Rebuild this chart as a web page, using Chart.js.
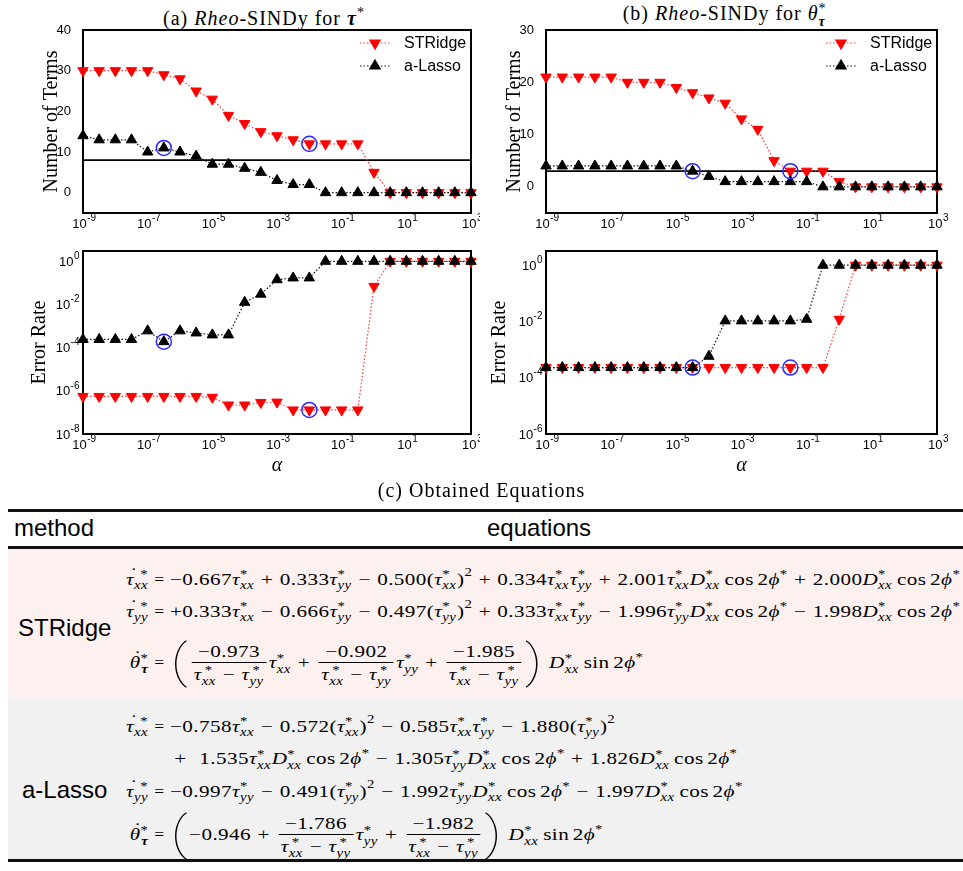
<!DOCTYPE html>
<html>
<head>
<meta charset="utf-8">
<script src="https://cdn.jsdelivr.net/npm/chart.js@4.4.1/dist/chart.umd.min.js"></script>
<style>
  html, body { margin: 0; padding: 0; background: #fff; }
  #page { position: relative; width: 963px; height: 871px; overflow: hidden; }
  .cv { position: absolute; }
  .serif { font-family: "Liberation Serif", "Times New Roman", serif; color: #000; }
  .sans { font-family: "Liberation Sans", Arial, sans-serif; color: #000; }
  .ptitle { position: absolute; top: 2px; font-size: 20px; letter-spacing: 0.05em; white-space: nowrap; transform: translateX(-50%); line-height: 22px; }
  .rule { position: absolute; left: 8px; right: 0; background: #111; }
  .band { position: absolute; left: 8px; right: 0; }
  .lbl { position: absolute; font-size: 24px; line-height: 28px; }
  .row { position: absolute; left: 0; font-size: 17.5px; line-height: 20px; height: 20px; white-space: nowrap; letter-spacing: 0.02em; }
  .lhs { display: inline-block; width: 149px; text-align: right; }
  .lhsin, .rhs { display: inline-block; }
  .lhsin { transform-origin: 100% 50%; }
  .rhs { transform-origin: 0 50%; }
  .op { margin: 0 0.3em; }
  .ss { display: inline-flex; flex-direction: column; font-size: 0.7em; line-height: 0.9em; vertical-align: 0.5em; margin-right: 0.05em; }
  .ss > span { display: block; height: 0.9em; }
  .st { font-size: 0.7em; vertical-align: 0.55em; }
  .p2 { font-size: 0.7em; vertical-align: 0.7em; }
  .fn { margin: 0 0.17em 0 0.2em; }
  .dt { position: relative; display: inline-block; }
  .dt::after { content: "\02D9"; position: absolute; left: 0.2em; top: -0.3em; font-style: normal; }
  .fr { display: inline-flex; flex-direction: column; text-align: center; vertical-align: middle; margin: -30px 0.12em; }
  .fr > span { display: block; padding: 0 0.1em; line-height: 22px; }
  .fr > .de { border-top: 1px solid #000; }
  .bp { display: inline-block; font-family: Roboto, "DejaVu Sans", sans-serif; font-weight: 100; font-size: 46px; line-height: 20px; vertical-align: -9px; margin: 0 0.02em; }
</style>
</head>
<body>
<div id="page">
  <div class="ptitle serif" style="left:264px;">(a) <i>Rheo</i>-SINDy for <b><i>τ</i></b><span class="st">*</span></div>
  <div class="ptitle serif" style="left:725px;">(b) <i>Rheo</i>-SINDy for <i>θ</i><span class="ss"><span>*</span><span><b><i>τ</i></b></span></span></div>

  <canvas id="cTermsTau" class="cv" width="480" height="220" style="left:0;top:20px;"></canvas>
  <canvas id="cTermsTheta" class="cv" width="483" height="220" style="left:480px;top:20px;"></canvas>
  <canvas id="cErrTau" class="cv" width="480" height="240" style="left:0;top:240px;"></canvas>
  <canvas id="cErrTheta" class="cv" width="483" height="240" style="left:480px;top:240px;"></canvas>

  <div class="serif" style="position:absolute;left:0;width:963px;top:479px;text-align:center;font-size:20px;letter-spacing:0.05em;line-height:22px;">(c) Obtained Equations</div>

  <div class="rule" style="top:509px;height:2.5px;"></div>
  <div class="lbl sans" style="left:14px;top:514px;">method</div>
  <div class="lbl sans" style="left:487px;top:514px;">equations</div>
  <div class="rule" style="top:546px;height:2.5px;"></div>
  <div class="band" style="top:549px;height:149px;background:#fdf1f0;"></div>
  <div class="band" style="top:698px;height:161px;background:#f1f1f1;"></div>
  <div class="rule" style="top:859px;height:3px;"></div>

  <div class="lbl sans" style="left:18px;top:614px;">STRidge</div>
  <div class="lbl sans" style="left:22px;top:776px;">a-Lasso</div>
  <div id="eqs" class="serif"></div>
</div>

<script>
// alpha grid (half decades from 1e-9 to 1e3)
const alpha = [1e-9, 3.16e-9, 1e-8, 3.16e-8, 1e-7, 3.16e-7, 1e-6, 3.16e-6, 1e-5, 3.16e-5,
  1e-4, 3.16e-4, 1e-3, 3.16e-3, 1e-2, 3.16e-2, 1e-1, 3.16e-1, 1, 3.16, 10, 31.6, 100, 316, 1000];
const xTicks = [1e-9, 1e-7, 1e-5, 1e-3, 1e-1, 1e1, 1e3];

// (a) tau*
const termsStridgeTau = [30, 30, 30, 30, 30, 29, 28, 25, 23, 19, 17, 15, 14, 13, 12, 12, 12, 12, 5, 0, 0, 0, 0, 0, 0];
const termsLassoTau = [14, 13, 13, 13, 10, 11, 10, 9, 7, 7, 6, 5, 3, 2, 2, 0, 0, 0, 0, 0, 0, 0, 0, 0, 0];
const errStridgeTau = [5.5e-7, 5.5e-7, 5.5e-7, 5.5e-7, 5.5e-7, 5.5e-7, 5.5e-7, 5.5e-7, 5e-7, 2.2e-7, 2.2e-7, 2.9e-7, 3e-7,
  1.3e-7, 1.3e-7, 1.3e-7, 1.3e-7, 1.3e-7, 0.069, 1, 1, 1, 1, 1, 1];
const errLassoTau = [2.4e-4, 2.4e-4, 2.4e-4, 2.4e-4, 6e-4, 1.9e-4, 6e-4, 4.8e-4, 3.9e-4, 3.9e-4, 0.0126, 0.03, 0.14,
  0.17, 0.17, 1, 1, 1, 1, 1, 1, 1, 1, 1, 1];
const trueTermsTau = 8;
const pickStridgeTau = 14;
const pickLassoTau = 5;

// (b) theta*
const termsStridgeTheta = [21, 21, 21, 21, 21, 20, 20, 20, 19, 18, 17, 16, 13, 11, 5, 3, 3, 3, 1, 0, 0, 0, 0, 0, 0];
const termsLassoTheta = [4, 4, 4, 4, 4, 4, 4, 4, 4, 3, 2, 1, 1, 1, 1, 1, 1, 0, 0, 0, 0, 0, 0, 0, 0];
const errStridgeTheta = [2.3e-4, 2.3e-4, 2.3e-4, 2.3e-4, 2.3e-4, 2.3e-4, 2.3e-4, 2.3e-4, 2.3e-4, 2.3e-4, 2.3e-4, 2.3e-4,
  2.3e-4, 2.3e-4, 2.3e-4, 2.3e-4, 2.3e-4, 2.3e-4, 0.012, 1, 1, 1, 1, 1, 1];
const errLassoTheta = [2.3e-4, 2.3e-4, 2.3e-4, 2.3e-4, 2.3e-4, 2.3e-4, 2.3e-4, 2.3e-4, 2.3e-4, 2.3e-4, 5.8e-4, 0.0105,
  0.0105, 0.0105, 0.0105, 0.0105, 0.012, 1, 1, 1, 1, 1, 1, 1, 1];
const trueTermsTheta = 3;
const pickStridgeTheta = 15;
const pickLassoTheta = 9;

Chart.defaults.font.family = "'Liberation Sans', Arial, sans-serif";
Chart.defaults.color = "#000";

const frameBox = {
  id: "frameBox",
  beforeDatasetsDraw(chart) {
    const { ctx, chartArea: a } = chart;
    ctx.save();
    ctx.strokeStyle = "#000";
    ctx.lineWidth = 2;
    ctx.strokeRect(a.left, a.top, a.right - a.left, a.bottom - a.top);
    ctx.restore();
  }
};

// "10" with a raised exponent, placed from the scale's own pixels
const powLabels = {
  id: "powLabels",
  afterDraw(chart) {
    const { ctx } = chart;
    Object.values(chart.scales).forEach(s => {
      const vals = s.options.powTicks;
      if (!vals) return;
      ctx.save();
      ctx.fillStyle = "#000";
      ctx.textBaseline = "middle";
      ctx.textAlign = "left";
      vals.forEach(v => {
        const e = String(Math.round(Math.log10(v)));
        ctx.font = "13px 'Liberation Sans', Arial, sans-serif";
        const wb = ctx.measureText("10").width;
        ctx.font = "10px 'Liberation Sans', Arial, sans-serif";
        const we = ctx.measureText(e).width;
        let x, y;
        if (s.axis === "x") {
          x = s.getPixelForValue(v) - (wb + we) / 2 + 1;
          y = s.top + 11;
        } else {
          x = s.right - 4 - (wb + we);
          y = s.getPixelForValue(v) + 1;
        }
        ctx.font = "13px 'Liberation Sans', Arial, sans-serif";
        ctx.fillText("10", x, y);
        ctx.font = "10px 'Liberation Sans', Arial, sans-serif";
        ctx.fillText(e, x + wb + 0.5, y - 6);
      });
      ctx.restore();
    });
  }
};

const insideLegend = {
  id: "insideLegend",
  afterDraw(chart, args, opts) {
    if (!opts.show) return;
    const { ctx, chartArea: a } = chart;
    const items = chart.data.datasets.filter(d => d.inLegend);
    items.forEach((d, i) => {
      const y = a.top + 13 + i * 23;
      const x0 = a.right - 111, x1 = a.right - 81;
      ctx.save();
      ctx.strokeStyle = d.borderColor;
      ctx.lineWidth = d.borderWidth;
      ctx.setLineDash(d.borderDash);
      ctx.beginPath();
      ctx.moveTo(x0, y);
      ctx.lineTo(x1, y);
      ctx.stroke();
      ctx.setLineDash([]);
      ctx.fillStyle = d.pointBackgroundColor;
      ctx.strokeStyle = d.pointBorderColor;
      Chart.helpers.drawPoint(ctx, {
        pointStyle: d.pointStyle, rotation: d.pointRotation, radius: d.pointRadius, borderWidth: 1
      }, (x0 + x1) / 2, y);
      ctx.fillStyle = "#000";
      ctx.font = "16px 'Liberation Sans', Arial, sans-serif";
      ctx.textBaseline = "middle";
      ctx.fillText(d.label, a.right - 67, y + 1);
      ctx.restore();
    });
  }
};

function pts(vals) {
  return alpha.map((a, i) => ({ x: a, y: vals[i] }));
}

function makePanel(id, p) {
  const datasets = [
    {
      label: "STRidge", inLegend: true, data: pts(p.stridge), order: 2, clip: false,
      borderColor: "#ff3b3b", borderWidth: 1.2, borderDash: [1.5, 2],
      pointStyle: "triangle", pointRotation: 180, pointRadius: 6,
      pointBackgroundColor: "#ff0000", pointBorderColor: "#ff0000", pointBorderWidth: 1
    },
    {
      label: "a-Lasso", inLegend: true, data: pts(p.lasso), order: 1, clip: false,
      borderColor: "#111", borderWidth: 1.2, borderDash: [1.5, 2],
      pointStyle: "triangle", pointRotation: 0, pointRadius: 6,
      pointBackgroundColor: "#000", pointBorderColor: "#000", pointBorderWidth: 1
    },
    {
      label: "picked", data: [
        { x: alpha[p.pickS], y: p.stridge[p.pickS] },
        { x: alpha[p.pickL], y: p.lasso[p.pickL] }
      ],
      order: 0, showLine: false, clip: false,
      pointStyle: "circle", pointRadius: 7.5, pointBorderWidth: 1.5,
      pointBorderColor: "#2a2aff", pointBackgroundColor: "rgba(0,0,0,0)"
    }
  ];
  if (p.ref !== undefined) {
    datasets.push({
      label: "true", data: [{ x: alpha[0], y: p.ref }, { x: alpha[alpha.length - 1], y: p.ref }],
      order: 3, borderColor: "#000", borderWidth: 1.8, pointRadius: 0
    });
  }
  const logY = p.yType === "logarithmic";
  return new Chart(document.getElementById(id), {
    type: "line",
    data: { datasets },
    plugins: [frameBox, powLabels, insideLegend],
    options: {
      responsive: false,
      animation: false,
      devicePixelRatio: 1,
      layout: { padding: { top: p.top, right: p.right, bottom: 0, left: 0 } },
      plugins: {
        legend: { display: false },
        tooltip: { enabled: false },
        insideLegend: { show: p.legend }
      },
      scales: {
        x: {
          type: "logarithmic",
          min: 1e-9, max: 1e3,
          powTicks: xTicks,
          grid: { display: false },
          border: { display: false },
          afterBuildTicks: s => { s.ticks = xTicks.map(v => ({ value: v })); },
          afterFit: s => { s.height = p.xHeight; s.paddingLeft = 0; s.paddingRight = 0; },
          ticks: { display: false },
          title: {
            display: !!p.xTitle, text: p.xTitle || "", color: "#000",
            font: { family: "'Liberation Serif', serif", size: 20, style: "italic" },
            padding: { top: 0, bottom: 2 }
          }
        },
        y: {
          type: p.yType,
          min: p.yMin, max: p.yMax,
          powTicks: logY ? p.yTicks : undefined,
          grid: { display: false },
          border: { display: false },
          afterBuildTicks: s => { s.ticks = p.yTicks.map(v => ({ value: v })); },
          afterFit: s => { s.width = p.yWidth; s.paddingTop = 0; s.paddingBottom = 0; },
          ticks: { display: !logY, autoSkip: false, padding: 4, font: { size: 13 } },
          title: {
            display: true, text: p.yTitle, color: "#000",
            font: { family: "'Liberation Serif', serif", size: 20 },
            padding: { top: p.yTitleX - 12, bottom: 0 }
          }
        }
      }
    }
  });
}

makePanel("cTermsTau", {
  stridge: termsStridgeTau, lasso: termsLassoTau, pickS: pickStridgeTau, pickL: pickLassoTau, ref: trueTermsTau,
  yType: "linear", yMin: -5, yMax: 40, yTicks: [0, 10, 20, 30, 40], yTitle: "Number of Terms",
  yTitleX: 52, yWidth: 83, top: 10, right: 6, xHeight: 27, legend: true
});
makePanel("cTermsTheta", {
  stridge: termsStridgeTheta, lasso: termsLassoTheta, pickS: pickStridgeTheta, pickL: pickLassoTheta, ref: trueTermsTheta,
  yType: "linear", yMin: -5, yMax: 30, yTicks: [0, 10, 20, 30], yTitle: "Number of Terms",
  yTitleX: 35, yWidth: 66, top: 10, right: 26, xHeight: 27, legend: true
});
makePanel("cErrTau", {
  stridge: errStridgeTau, lasso: errLassoTau, pickS: pickStridgeTau, pickL: pickLassoTau,
  yType: "logarithmic", yMin: 1e-8, yMax: 3, yTicks: [1e-8, 1e-6, 1e-4, 1e-2, 1], yTitle: "Error Rate",
  yTitleX: 40, yWidth: 83, top: 11, right: 6, xHeight: 46, xTitle: "α", legend: false
});
makePanel("cErrTheta", {
  stridge: errStridgeTheta, lasso: errLassoTheta, pickS: pickStridgeTheta, pickL: pickLassoTheta,
  yType: "logarithmic", yMin: 1e-6, yMax: 3.2, yTicks: [1e-6, 1e-4, 1e-2, 1], yTitle: "Error Rate",
  yTitleX: 20, yWidth: 66, top: 11, right: 26, xHeight: 46, xTitle: "α", legend: false
});

// ---- equations table (typeset with html) ----
const star = sub => `<span class="ss"><span>*</span><span>${sub}</span></span>`;
const tau = sub => `<i>τ</i>${star(`<i>${sub}</i>`)}`;
const D = `<i>D</i>${star("<i>xx</i>")}`;
const op = c => `<span class="op">${c}</span>`;
const sq = "<span class=\"p2\">2</span>";
const cos2 = `<span class="fn">cos</span>2<i>ϕ</i><span class="st">*</span>`;
const sin2 = `<span class="fn">sin</span>2<i>ϕ</i><span class="st">*</span>`;
const tdot = sub => `<span class="dt"><i>τ</i></span>${star(`<i>${sub}</i>`)}`;
const thdot = `<span class="dt"><i>θ</i></span>${star("<b><i>τ</i></b>")}`;
const frac = num => `<span class="fr"><span>${num}</span><span class="de">${tau("xx")}${op("−")}${tau("yy")}</span></span>`;
const lp = "<span class=\"bp\">(</span>", rp = "<span class=\"bp\">)</span>";

const rows = [
  [572, tdot("xx"), `−0.667${tau("xx")}${op("+")}0.333${tau("yy")}${op("−")}0.500(${tau("xx")})${sq}${op("+")}0.334${tau("xx")}${tau("yy")}${op("+")}2.001${tau("xx")}${D}${cos2}${op("+")}2.000${D}${cos2}`],
  [604, tdot("yy"), `+0.333${tau("xx")}${op("−")}0.666${tau("yy")}${op("−")}0.497(${tau("yy")})${sq}${op("+")}0.333${tau("xx")}${tau("yy")}${op("−")}1.996${tau("yy")}${D}${cos2}${op("−")}1.998${D}${cos2}`],
  [657, thdot, `${lp}${frac("−0.973")}${tau("xx")}${op("+")}${frac("−0.902")}${tau("yy")}${op("+")}${frac("−1.985")}${rp} ${D}${sin2}`],
  [719, tdot("xx"), `−0.758${tau("xx")}${op("−")}0.572(${tau("xx")})${sq}${op("−")}0.585${tau("xx")}${tau("yy")}${op("−")}1.880(${tau("yy")})${sq}`],
  [753, "", `<span style="margin-left:0.2em">+</span><span class="op"></span>1.535${tau("xx")}${D}${cos2}${op("−")}1.305${tau("yy")}${D}${cos2}${op("+")}1.826${D}${cos2}`],
  [784, tdot("yy"), `−0.997${tau("yy")}${op("−")}0.491(${tau("yy")})${sq}${op("−")}1.992${tau("yy")}${D}${cos2}${op("−")}1.997${D}${cos2}`],
  [829, thdot, `${lp}−0.946${op("+")}${frac("−1.786")}${tau("yy")}${op("+")}${frac("−1.982")}${rp} ${D}${sin2}`]
];
const eqBox = document.getElementById("eqs");
eqBox.innerHTML = rows.map(([y, l, r]) =>
  `<div class="row" style="top:${y - 10}px;"><span class="lhs"><span class="lhsin">${l}</span></span><span class="op" style="${l ? "" : "visibility:hidden"}">=</span><span class="rhs">${r}</span></div>`
).join("");

// widen the serif math to the width of the reference's Computer Modern lines
const eqRightEdge = 960;
function fitEquations() {
  const rhs = eqBox.querySelectorAll(".rhs");
  const lhs = eqBox.querySelectorAll(".lhsin");
  rhs.forEach(el => { el.style.transform = ""; });
  lhs.forEach(el => { el.style.transform = ""; });
  const r0 = rhs[0].getBoundingClientRect();
  const k = (eqRightEdge - r0.left) / r0.width;
  rhs.forEach(el => { el.style.transform = `scaleX(${k})`; });
  lhs.forEach(el => { el.style.transform = `scaleX(${k})`; });
}
fitEquations();
</script>
</body>
</html>
